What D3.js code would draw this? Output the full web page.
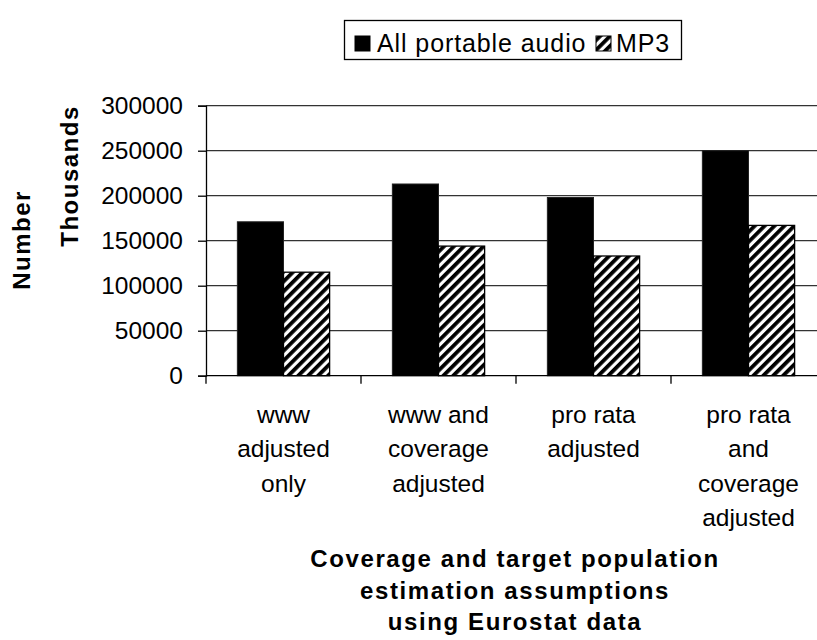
<!DOCTYPE html>
<html>
<head>
<meta charset="utf-8">
<script src="https://cdn.jsdelivr.net/npm/d3@7"></script>
<style>
  body { margin: 0; background: #fff; }
  text { font-family: "Liberation Sans", Arial, sans-serif; fill: #000; }
</style>
</head>
<body>
<div id="chart"></div>
<script>
  // data (thousands)
  var categories = [
      ['www', 'adjusted', 'only'],
      ['www and', 'coverage', 'adjusted'],
      ['pro rata', 'adjusted'],
      ['pro rata', 'and', 'coverage', 'adjusted']
  ];
  var seriesNames = ['All portable audio', 'MP3'];
  var allAudio = [171000, 213000, 198000, 250000];
  var mp3 = [115000, 144000, 133000, 167000];
  var yTicks = [0, 50000, 100000, 150000, 200000, 250000, 300000];

  var width = 817, height = 640;
  var margin = { top: 105.7, left: 206, right: 826, bottom: 375.7 };

  var svg = d3.select('#chart')
      .append('svg')
      .attr('width', width)
      .attr('height', height);

  // hatch pattern for MP3
  var defs = svg.append('defs');
  var pat = defs.append('pattern')
      .attr('id', 'hatch')
      .attr('patternUnits', 'userSpaceOnUse')
      .attr('width', 7)
      .attr('height', 7)
      .attr('patternTransform', 'rotate(45)');
  pat.append('rect').attr('width', 7).attr('height', 7).attr('fill', '#fff');
  pat.append('rect').attr('width', 3.8).attr('height', 7).attr('fill', '#000');

  var keys = d3.range(categories.length);

  var x = d3.scaleBand()
      .domain(keys)
      .range([margin.left, margin.right])
      .paddingInner(0)
      .paddingOuter(0);

  var x1 = d3.scaleBand()
      .domain([0, 1])
      .range([0, x.bandwidth()])
      .paddingOuter(0.68)
      .paddingInner(0);

  var y = d3.scaleLinear()
      .domain([0, 300000])
      .range([margin.bottom, margin.top]);

  // gridlines
  svg.append('g')
      .selectAll('line')
      .data(yTicks.slice(1))
      .enter().append('line')
      .attr('x1', margin.left)
      .attr('x2', margin.right)
      .attr('y1', function(d) { return y(d); })
      .attr('y2', function(d) { return y(d); })
      .attr('stroke', '#333')
      .attr('stroke-width', 1.3);

  // y axis
  var yAxis = svg.append('g')
      .attr('transform', 'translate(' + margin.left + ',0)')
      .call(d3.axisLeft(y).tickValues(yTicks).tickSize(8).tickPadding(15).tickFormat(d3.format('d')));
  yAxis.select('.domain').attr('stroke', '#000').attr('stroke-width', 1.3);
  yAxis.selectAll('.tick line').attr('stroke', '#000').attr('stroke-width', 1.3);
  yAxis.selectAll('.tick text')
      .attr('font-size', 24.5)
      .attr('font-family', '"Liberation Sans", Arial, sans-serif')
      .attr('fill', '#000');

  // bars
  var groups = svg.append('g')
      .selectAll('g')
      .data(keys)
      .enter().append('g')
      .attr('transform', function(d) { return 'translate(' + x(d) + ',0)'; });

  groups.append('rect')
      .attr('x', x1(0))
      .attr('width', x1.bandwidth())
      .attr('y', function(d) { return y(allAudio[d]); })
      .attr('height', function(d) { return y(0) - y(allAudio[d]); })
      .attr('fill', '#000')
      .attr('stroke', '#222')
      .attr('stroke-width', 1);

  groups.append('rect')
      .attr('x', x1(1))
      .attr('width', x1.bandwidth())
      .attr('y', function(d) { return y(mp3[d]); })
      .attr('height', function(d) { return y(0) - y(mp3[d]); })
      .attr('fill', 'url(#hatch)')
      .attr('stroke', '#000')
      .attr('stroke-width', 1.3);

  // x axis line + category ticks
  svg.append('line')
      .attr('x1', margin.left)
      .attr('x2', margin.right)
      .attr('y1', y(0))
      .attr('y2', y(0))
      .attr('stroke', '#000')
      .attr('stroke-width', 1.3);

  svg.append('g')
      .selectAll('line')
      .data(keys)
      .enter().append('line')
      .attr('x1', function(d) { return x(d); })
      .attr('x2', function(d) { return x(d); })
      .attr('y1', y(0))
      .attr('y2', y(0) + 8)
      .attr('stroke', '#000')
      .attr('stroke-width', 1.3);

  // category labels
  var labels = svg.append('g')
      .selectAll('text')
      .data(keys)
      .enter().append('text')
      .attr('text-anchor', 'middle')
      .attr('font-size', 24.5)
      .attr('x', function(d) { return x(d) + x.bandwidth() / 2; })
      .attr('y', 423);
  labels.selectAll('tspan')
      .data(function(d) { return categories[d]; })
      .enter().append('tspan')
      .attr('x', function() { return d3.select(this.parentNode).attr('x'); })
      .attr('dy', function(d, i) { return i === 0 ? 0 : 34.3; })
      .text(function(d) { return d; });

  // x axis title
  var xTitle = ['Coverage and target population', 'estimation assumptions', 'using Eurostat data'];
  svg.append('g')
      .selectAll('text')
      .data(xTitle)
      .enter().append('text')
      .attr('text-anchor', 'middle')
      .attr('font-size', 24)
      .attr('font-weight', 'bold')
      .attr('letter-spacing', 1.6)
      .attr('x', 515)
      .attr('y', function(d, i) { return 567 + i * 31.5; })
      .text(function(d) { return d; });

  // y axis titles
  svg.append('text')
      .attr('transform', 'translate(30,240) rotate(-90)')
      .attr('text-anchor', 'middle')
      .attr('font-size', 24)
      .attr('font-weight', 'bold')
      .attr('letter-spacing', 1.5)
      .text('Number');
  svg.append('text')
      .attr('transform', 'translate(78,176) rotate(-90)')
      .attr('text-anchor', 'middle')
      .attr('font-size', 24)
      .attr('font-weight', 'bold')
      .attr('letter-spacing', 1.5)
      .text('Thousands');

  // legend
  var legend = svg.append('g');
  legend.append('rect')
      .attr('x', 344.5).attr('y', 20.5)
      .attr('width', 337).attr('height', 39)
      .attr('fill', '#fff')
      .attr('stroke', '#000')
      .attr('stroke-width', 1.3);
  var legendItems = [
      { name: seriesNames[0], fill: '#000', x: 355, tx: 377 },
      { name: seriesNames[1], fill: 'url(#hatch)', x: 596, tx: 616 }
  ];
  legendItems.forEach(function(it) {
      legend.append('rect')
          .attr('x', it.x).attr('y', 36)
          .attr('width', 15).attr('height', 15)
          .attr('fill', it.fill)
          .attr('stroke', '#000')
          .attr('stroke-width', 1);
      legend.append('text')
          .attr('x', it.tx).attr('y', 52)
          .attr('font-size', 25)
          .attr('letter-spacing', 0.9)
          .text(it.name);
  });
</script>
</body>
</html>
